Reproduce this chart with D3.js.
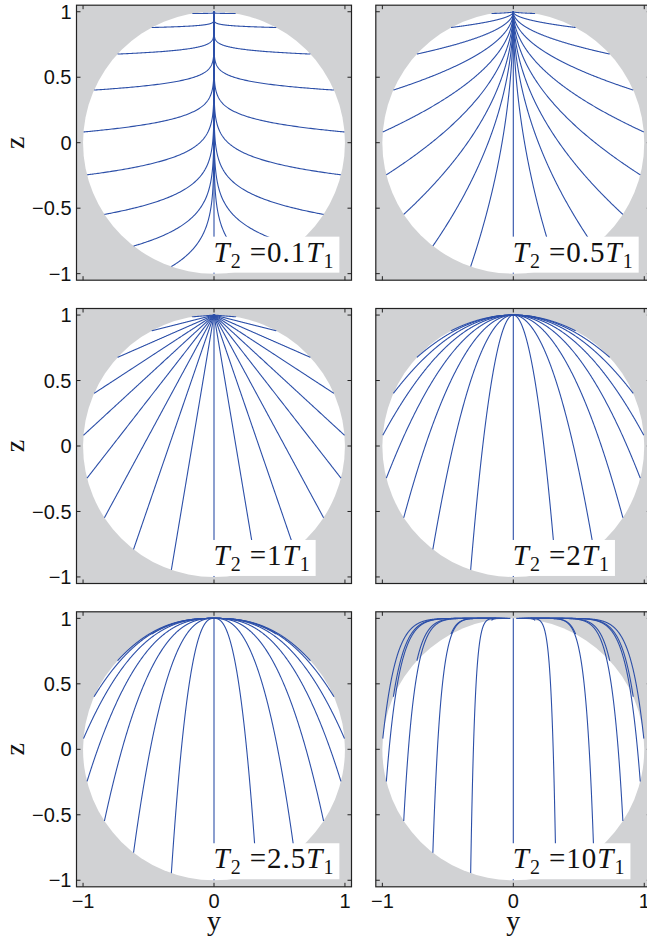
<!DOCTYPE html>
<html>
<head>
<meta charset="utf-8">
<script src="https://cdnjs.cloudflare.com/ajax/libs/d3/7.8.5/d3.min.js"></script>
<style>
  body { margin: 0; background: #fff; }
  .tick-label { font-family: "Liberation Sans", Arial, sans-serif; font-size: 20px; fill: #111; }
  .axis-title { font-family: "Liberation Serif", "Times New Roman", serif; font-size: 28px; fill: #111; }
  .panel-label { font-family: "Liberation Serif", "Times New Roman", serif; font-size: 29px; fill: #111; letter-spacing: 1px; }
</style>
</head>
<body>
<svg id="fig" width="647" height="939"></svg>
<script>
// T2 / T1 of each panel, row by row
var ratios = [0.1, 0.5, 1, 2, 2.5, 10];
var ratioText = ["0.1", "0.5", "1", "2", "2.5", "10"];
// polar angle (degrees from +z) of the starting points on the circle, one half
var startAngles = [180, 161, 142.1, 123.2, 104.2, 85.3, 66.3, 47.4, 28.4, 9.5];
// length of each run, in units of T1
var tEnd = 20;
var yTicks = [-1, 0, 1];
var zTicks = [-1, -0.5, 0, 0.5, 1];

var size = 275;
var colLeft = [76.5, 375.8];
var rowTop = [5.2, 308.5, 611.8];

var svg = d3.select("#fig");

var x = d3.scaleLinear().domain([-1.05, 1.05]).range([0, size]);
var z = d3.scaleLinear().domain([-1.05, 1.05]).range([size, 0]);

// time samples, denser near the start where the fast decay happens
var times = d3.range(0, 801).map(function (i) { return tEnd * Math.pow(i / 800, 2); });

function trajectory(y0, z0, r) {
    return times.map(function (t) {
        return { y: y0 * Math.exp(-t / r), z: 1 - (1 - z0) * Math.exp(-t) };
    });
}

var line = d3.line()
    .x(function (d) { return x(d.y); })
    .y(function (d) { return z(d.z); });

ratios.forEach(function (r, i) {
    var row = Math.floor(i / 2), col = i % 2;
    var g = svg.append("g")
        .attr("transform", "translate(" + colLeft[col] + "," + rowTop[row] + ")");

    g.append("clipPath").attr("id", "clip" + i)
        .append("rect").attr("width", size).attr("height", size);

    var plot = g.append("g").attr("clip-path", "url(#clip" + i + ")");

    plot.append("rect")
        .attr("width", size).attr("height", size)
        .attr("fill", "#d1d2d4");

    plot.append("circle")
        .attr("cx", x(0)).attr("cy", z(0))
        .attr("r", x(1) - x(0))
        .attr("fill", "#fff");

    // starting points on both sides of the circle
    var starts = [];
    startAngles.forEach(function (a) {
        var th = a * Math.PI / 180;
        starts.push([Math.sin(th), Math.cos(th)]);
        if (a < 180) starts.push([-Math.sin(th), Math.cos(th)]);
    });

    plot.selectAll("path.traj")
        .data(starts)
        .enter().append("path")
        .attr("class", "traj")
        .attr("d", function (s) { return line(trajectory(s[0], s[1], r)); })
        .attr("fill", "none")
        .attr("stroke", "#2c4fa8")
        .attr("stroke-width", 1.1);

    // label with white background
    var boxBottom = z(-1) - 1;
    var boxLeft = x(0) - 4.5;
    var label = plot.append("text")
        .attr("class", "panel-label")
        .attr("x", boxLeft + 4)
        .attr("y", boxBottom - 11);
    label.append("tspan").attr("font-style", "italic").text("T");
    label.append("tspan").attr("font-size", "20px").attr("dy", 6).text("2");
    label.append("tspan").attr("dy", -6).attr("dx", 8).text("=" + ratioText[i]);
    label.append("tspan").attr("font-style", "italic").text("T");
    label.append("tspan").attr("font-size", "20px").attr("dy", 6).text("1");
    var bb = label.node().getBBox();
    plot.insert("rect", "text")
        .attr("x", boxLeft)
        .attr("y", boxBottom - 36)
        .attr("width", bb.x + bb.width - boxLeft + 5)
        .attr("height", 36)
        .attr("fill", "#fff");

    // frame and inward ticks
    g.append("rect")
        .attr("width", size).attr("height", size)
        .attr("fill", "none")
        .attr("stroke", "#222")
        .attr("stroke-width", 1.2);

    var tl = 4;
    yTicks.forEach(function (v) {
        g.append("line").attr("x1", x(v)).attr("x2", x(v)).attr("y1", size).attr("y2", size - tl)
            .attr("stroke", "#222");
        g.append("line").attr("x1", x(v)).attr("x2", x(v)).attr("y1", 0).attr("y2", tl)
            .attr("stroke", "#222");
    });
    zTicks.forEach(function (v) {
        g.append("line").attr("x1", 0).attr("x2", tl).attr("y1", z(v)).attr("y2", z(v))
            .attr("stroke", "#222");
        g.append("line").attr("x1", size).attr("x2", size - tl).attr("y1", z(v)).attr("y2", z(v))
            .attr("stroke", "#222");
    });

    var fmt = function (v) { return String(v).replace("-", "\u2212"); };

    if (col === 0) {
        g.selectAll("text.zt")
            .data(zTicks)
            .enter().append("text")
            .attr("class", "tick-label")
            .attr("x", -5)
            .attr("y", function (v) { return z(v); })
            .attr("dy", "0.36em")
            .attr("text-anchor", "end")
            .text(fmt);
        g.append("text")
            .attr("class", "axis-title")
            .attr("transform", "translate(" + (-53) + "," + z(0) + ") rotate(-90)")
            .attr("text-anchor", "middle")
            .text("z");
    }
    if (row === 2) {
        g.selectAll("text.yt")
            .data(yTicks)
            .enter().append("text")
            .attr("class", "tick-label")
            .attr("x", function (v) { return x(v); })
            .attr("y", size + 21)
            .attr("text-anchor", "middle")
            .text(fmt);
        g.append("text")
            .attr("class", "axis-title")
            .attr("x", x(0))
            .attr("y", size + 43)
            .attr("text-anchor", "middle")
            .text("y");
    }
});
</script>
</body>
</html>
